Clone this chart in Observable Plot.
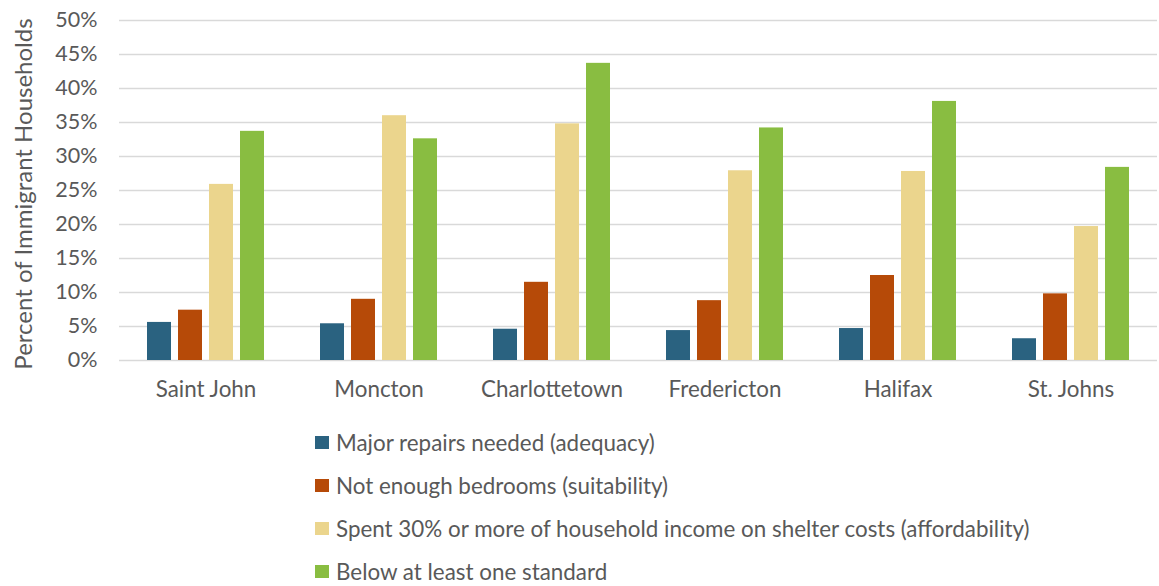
<!DOCTYPE html>
<html>
<head>
<meta charset="utf-8">
<script src="https://cdn.jsdelivr.net/npm/d3@7"></script>
<script src="https://cdn.jsdelivr.net/npm/@observablehq/plot@0.6"></script>
<style>
  html, body { margin: 0; padding: 0; background: #fff; }
  #chart { position: relative; width: 1159px; font-family: Lato, "Open Sans", sans-serif; color: #595959; }
  .ylabel { position: absolute; left: 22px; top: 194px; transform: translate(-50%, -50%) rotate(-90deg);
            white-space: nowrap; font-size: 24px; color: #595959; }
  .legend { padding-top: 1px; margin-left: 315px; }
  .legend .row { height: 43px; display: flex; align-items: center; font-size: 22.4px; color: #595959; }
  .legend .sw { width: 14px; height: 13px; margin-right: 7px; flex: none; }
</style>
</head>
<body>
<div id="chart"></div>
<script>
const cities = ["Saint John", "Moncton", "Charlottetown", "Fredericton", "Halifax", "St. Johns"];
const seriesNames = [
  "Major repairs needed (adequacy)",
  "Not enough bedrooms (suitability)",
  "Spent 30% or more of household income on shelter costs (affordability)",
  "Below at least one standard"
];
const seriesColors = ["#2a6280", "#b64a08", "#ebd58d", "#89bd41"];
const majorRepairs   = [5.6, 5.4, 4.6, 4.4, 4.7, 3.2];
const notEnoughBeds  = [7.4, 9.0, 11.5, 8.8, 12.5, 9.8];
const affordability  = [25.9, 36.0, 34.8, 27.9, 27.8, 19.7];
const belowStandard  = [33.7, 32.6, 43.7, 34.2, 38.1, 28.4];
const yTicks = [0, 5, 10, 15, 20, 25, 30, 35, 40, 45, 50];
const yTitle = "Percent of Immigrant Households";

const seriesValues = [majorRepairs, notEnoughBeds, affordability, belowStandard];
const data = [];
cities.forEach((c, i) => {
  seriesNames.forEach((s, j) => {
    data.push({city: c, series: s, value: seriesValues[j][i]});
  });
});

const chart = Plot.plot({
  width: 1159,
  height: 420,
  marginLeft: 118,
  marginRight: 1,
  marginTop: 20,
  marginBottom: 60,
  style: {fontFamily: "Lato, 'Open Sans', sans-serif", fontSize: "21.5px", color: "#595959", background: "white"},
  fx: {domain: cities, padding: 0, label: null, tickSize: 0, tickPadding: 21},
  x: {domain: seriesNames, axis: null, paddingInner: 0.227, paddingOuter: 0.847},
  y: {domain: [0, 50], ticks: yTicks, tickFormat: d => d + "%", tickSize: 0, tickPadding: 22, label: null},
  color: {domain: seriesNames, range: seriesColors},
  facet: {data: data, x: "city"},
  marks: [
    Plot.ruleY(yTicks, {stroke: "#d9d9d9", strokeWidth: 1.5}),
    Plot.barY(data, {x: "series", y: "value", fill: "series"})
  ]
});
chart.querySelectorAll("g[aria-label='fx-axis tick label'] text, g[aria-label='fx-axis'] text").forEach(t => t.style.fontSize = "22.4px");
document.getElementById("chart").appendChild(chart);

const yl = document.createElement("div");
yl.className = "ylabel";
yl.textContent = yTitle;
document.getElementById("chart").appendChild(yl);

const legend = document.createElement("div");
legend.className = "legend";
seriesNames.forEach((s, j) => {
  const row = document.createElement("div");
  row.className = "row";
  const sw = document.createElement("span");
  sw.className = "sw";
  sw.style.background = seriesColors[j];
  const t = document.createElement("span");
  t.textContent = s;
  row.appendChild(sw);
  row.appendChild(t);
  legend.appendChild(row);
});
document.getElementById("chart").appendChild(legend);
</script>
</body>
</html>
